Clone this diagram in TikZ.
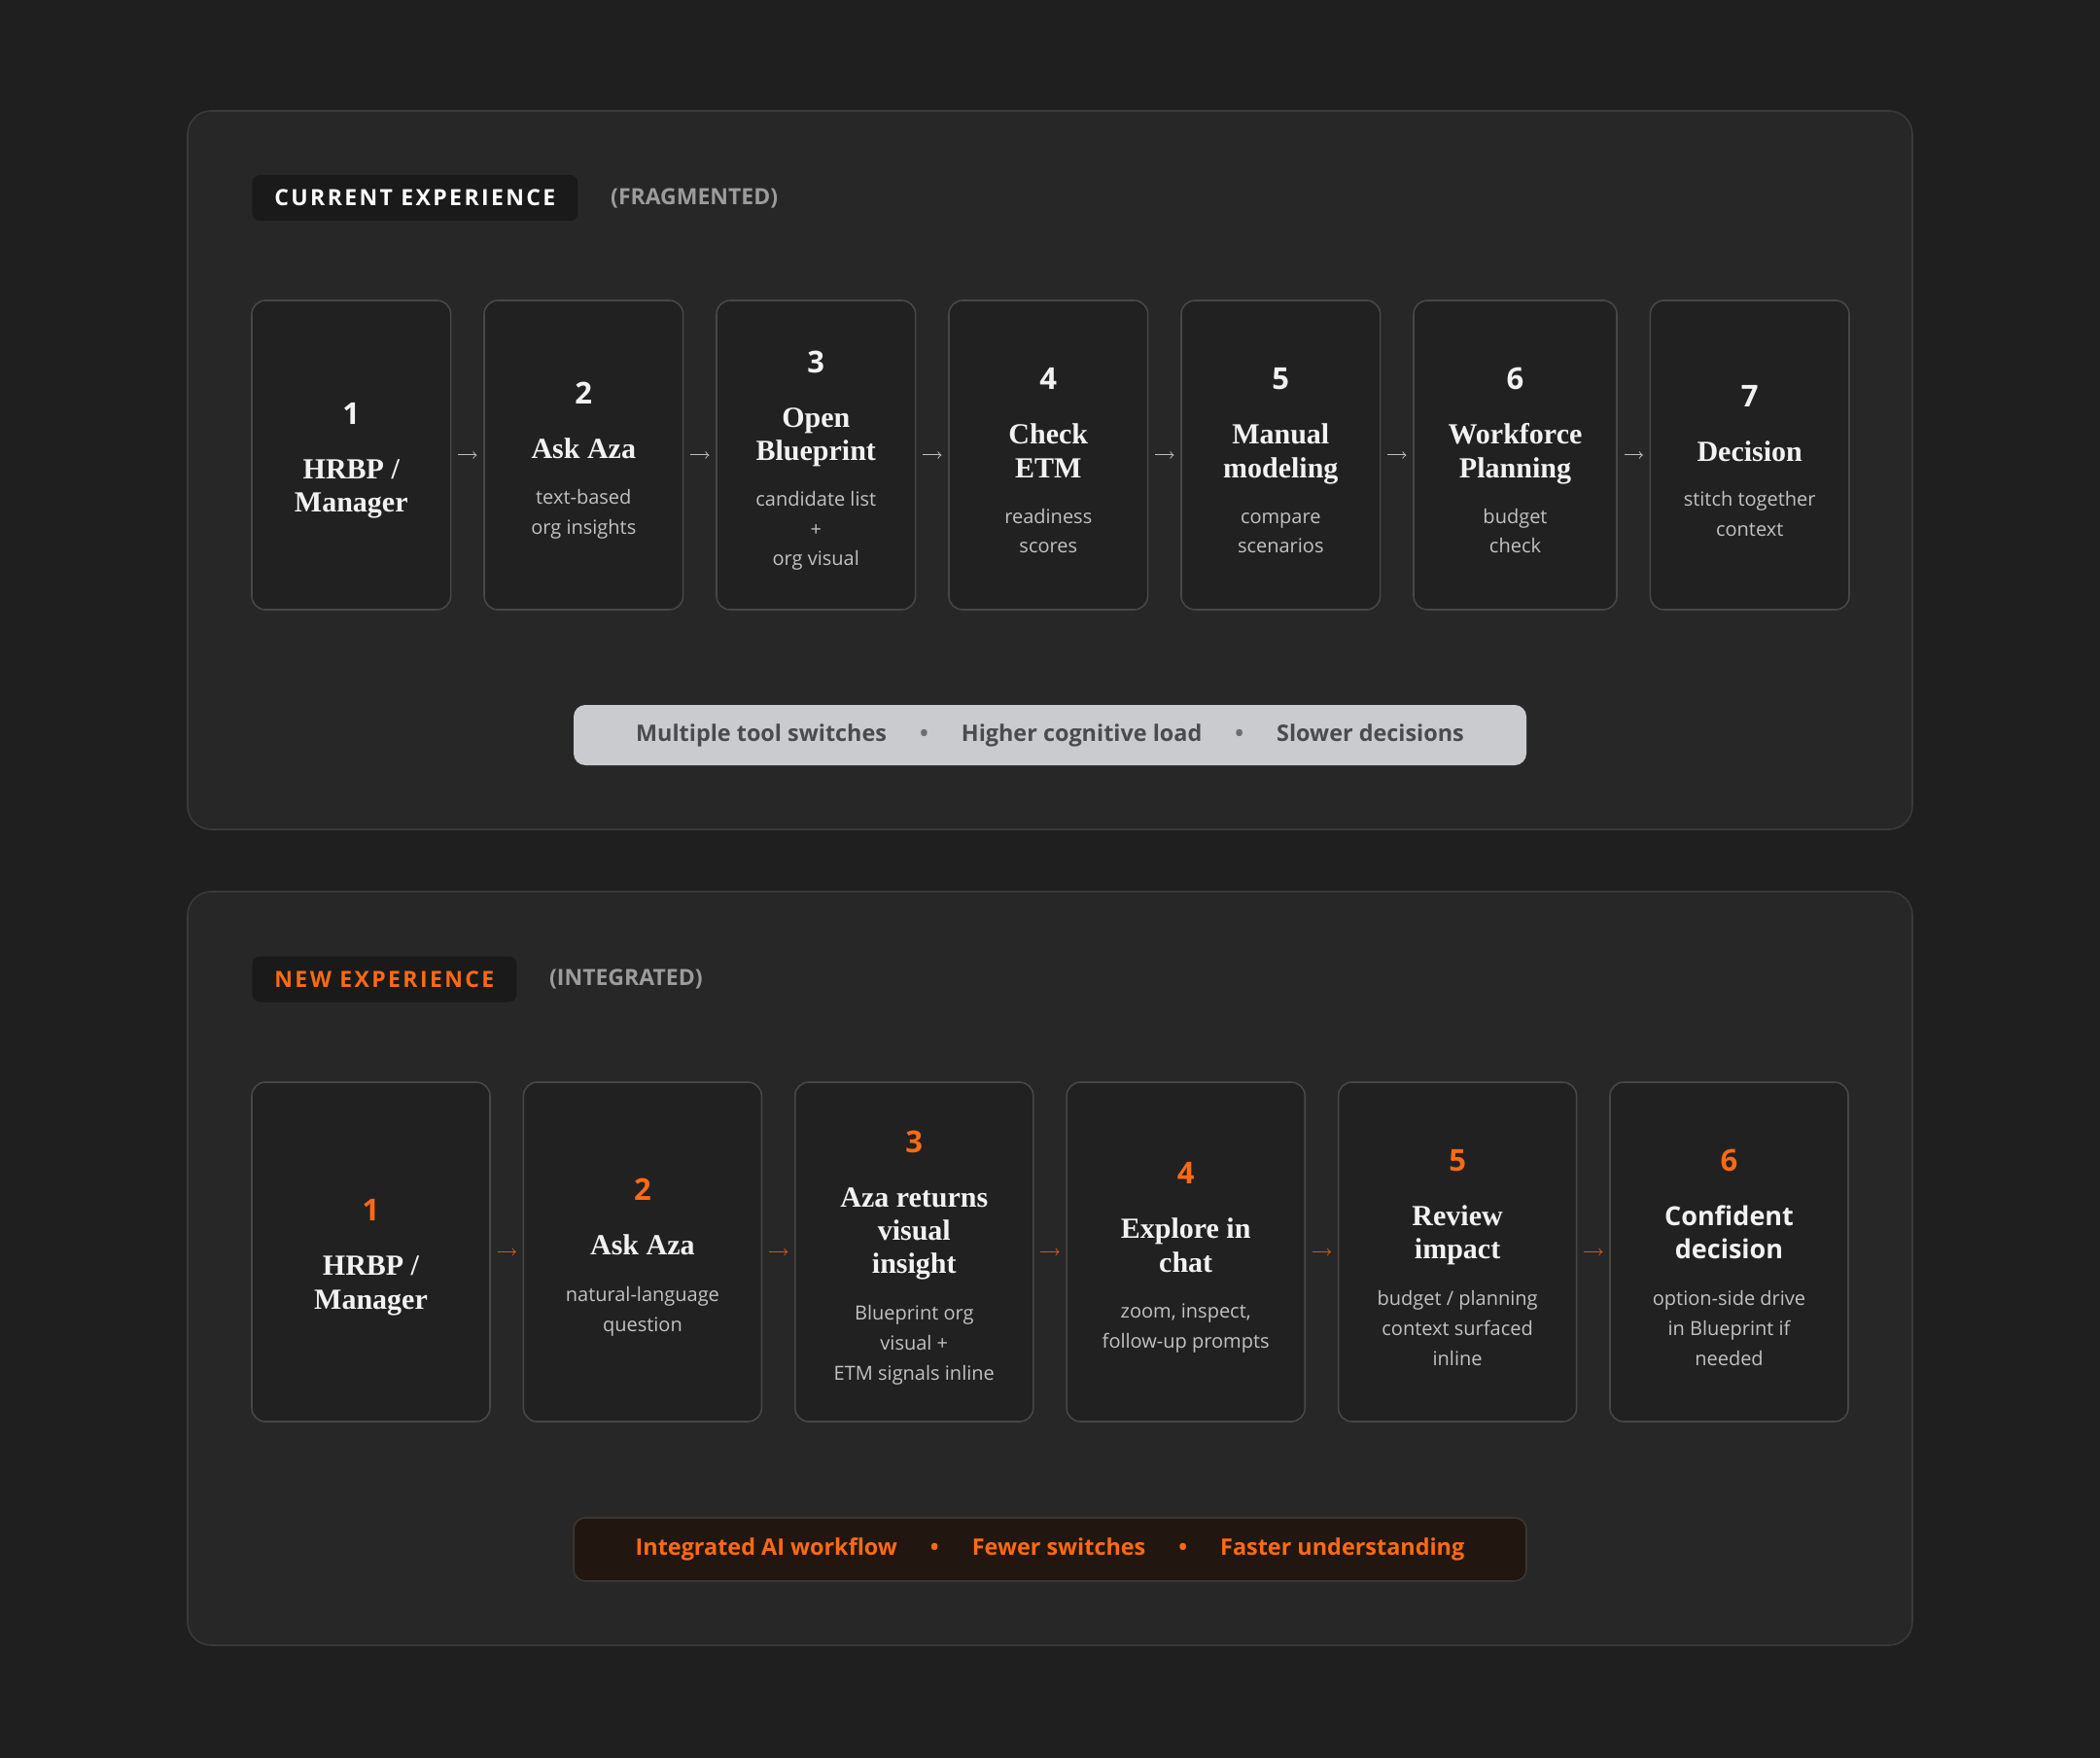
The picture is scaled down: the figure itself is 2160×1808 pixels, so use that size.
\documentclass[tikz,border=0pt]{standalone}
\usepackage{fontspec}
\setmainfont{Liberation Serif}
\newfontfamily\uisans{Open Sans}
\newfontfamily\uitrack[LetterSpace=10.4]{Open Sans}
\usepackage{tikz}
\usetikzlibrary{positioning}

\definecolor{pagebg}{HTML}{1F1F1F}
\definecolor{panelbg}{HTML}{272727}
\definecolor{panelline}{HTML}{3A3A3A}
\definecolor{cardbg}{HTML}{212121}
\definecolor{cardline}{HTML}{474747}
\definecolor{tagbg}{HTML}{1A1A1A}
\definecolor{titlewhite}{HTML}{F2F2F2}
\definecolor{softgray}{HTML}{C2C2C2}
\definecolor{headgray}{HTML}{9C9C9C}
\definecolor{arrowgray}{HTML}{BDBDBD}
\definecolor{brandorange}{HTML}{FF6A14}
\definecolor{dimorange}{HTML}{C9571B}
\definecolor{barlight}{HTML}{C9CBCF}
\definecolor{bartext}{HTML}{4A4B4F}
\definecolor{dotgray}{HTML}{6E6F72}
\definecolor{bardark}{HTML}{221710}
\definecolor{barline}{HTML}{3B3633}

\newcommand\cardfont{\uisans\fontsize{10}{15.4}\selectfont}
\newcommand\stepnum{\uisans\bfseries\fontsize{15.5}{18}\selectfont\rule{0pt}{17pt}}
\newcommand\steptitle{\rmfamily\bfseries\fontsize{15}{18}\selectfont}
\newcommand\stepsanstitle{\uisans\bfseries\fontsize{13.5}{17}\selectfont}
\newcommand\stepdesc{\uisans\fontsize{10}{15.4}\selectfont\color{softgray}}
\newcommand\graydot{\hspace{17pt}{\color{dotgray}\textbullet}\hspace{17pt}}
\newcommand\orangedot{\hspace{17pt}\textbullet\hspace{17pt}}

\begin{document}
\begin{tikzpicture}[x=0.5pt, y=-0.5pt, node distance=17.2pt,
    panel/.style={fill=panelbg, draw=panelline, line width=0.8pt, rounded corners=12pt},
    card/.style={rectangle, fill=cardbg, draw=cardline, line width=0.8pt, outer sep=0pt, rounded corners=7pt, align=center, text=titlewhite, font=\cardfont},
    topcard/.style={card, minimum width=102.3pt, minimum height=159pt},
    newcard/.style={card, minimum width=122.5pt, minimum height=174.5pt},
    tagbox/.style={fill=tagbg, rounded corners=4pt, inner xsep=11.5pt, minimum height=23.5pt, font=\uitrack\bfseries\fontsize{11.5}{14}\selectfont},
    taghint/.style={inner sep=0pt, text=headgray, font=\uisans\bfseries\fontsize{11.5}{14}\selectfont},
    barbox/.style={rounded corners=6pt, minimum width=490pt, minimum height=31pt, font=\uisans\bfseries\fontsize{11.7}{14}\selectfont},
    topflow/.style={->, draw=arrowgray, line width=0.5pt, shorten <=3.8pt, shorten >=3.8pt},
    newflow/.style={topflow, draw=dimorange}
]
\fill[pagebg] (0,0) rectangle (2160,1808);

% current experience
\draw[panel] (193,114) rectangle (1967,853);
\node[tagbox, text=white, anchor=west](curtag) at (259,203.5) {CURRENT EXPERIENCE};
\node[taghint](curhint)[right=16.5pt of curtag]{(FRAGMENTED)};

\node[topcard, anchor=north west](t1) at (259,309) {\stepnum 1\\[12.6pt]\steptitle HRBP /\\[1.8pt]\steptitle Manager};
\node[topcard](t2)[right=of t1]{\stepnum 2\\[12.6pt]\steptitle Ask Aza\\[8pt]\stepdesc text-based\\\stepdesc org insights};
\node[topcard](t3)[right=of t2]{\stepnum 3\\[12.6pt]\steptitle Open\\[1.8pt]\steptitle Blueprint\\[8pt]\stepdesc candidate list\\\stepdesc +\\\stepdesc org visual};
\node[topcard](t4)[right=of t3]{\stepnum 4\\[12.6pt]\steptitle Check\\[1.8pt]\steptitle ETM\\[8pt]\stepdesc readiness\\\stepdesc scores};
\node[topcard](t5)[right=of t4]{\stepnum 5\\[12.6pt]\steptitle Manual\\[1.8pt]\steptitle modeling\\[8pt]\stepdesc compare\\\stepdesc scenarios};
\node[topcard, minimum width=104.5pt](t6)[right=of t5]{\stepnum 6\\[12.6pt]\steptitle Workforce\\[1.8pt]\steptitle Planning\\[8pt]\stepdesc budget\\\stepdesc check};
\node[topcard](t7)[right=of t6]{\stepnum 7\\[12.6pt]\steptitle Decision\\[8pt]\stepdesc stitch together\\\stepdesc context};
\draw[topflow] (t1) -- (t2);
\draw[topflow] (t2) -- (t3);
\draw[topflow] (t3) -- (t4);
\draw[topflow] (t4) -- (t5);
\draw[topflow] (t5) -- (t6);
\draw[topflow] (t6) -- (t7);

\node[barbox, fill=barlight, text=bartext](curbar) at (1080,756) {Multiple tool switches\graydot Higher cognitive load\graydot Slower decisions};

% new experience
\draw[panel] (193,917) rectangle (1967,1692);
\node[tagbox, text=brandorange, anchor=west](newtag) at (259,1007) {NEW EXPERIENCE};
\node[taghint](newhint)[right=16.5pt of newtag]{(INTEGRATED)};

\node[newcard, anchor=north west](b1) at (259,1113) {\stepnum\color{brandorange}1\\[12.6pt]\steptitle HRBP /\\[1.8pt]\steptitle Manager};
\node[newcard](b2)[right=of b1]{\stepnum\color{brandorange}2\\[12.6pt]\steptitle Ask Aza\\[8.5pt]\stepdesc natural-language\\\stepdesc question};
\node[newcard](b3)[right=of b2]{\stepnum\color{brandorange}3\\[12.6pt]\steptitle Aza returns\\[1.8pt]\steptitle visual\\[1.8pt]\steptitle insight\\[8.5pt]\stepdesc Blueprint org\\\stepdesc visual +\\\stepdesc ETM signals inline};
\node[newcard](b4)[right=of b3]{\stepnum\color{brandorange}4\\[12.6pt]\steptitle Explore in\\[1.8pt]\steptitle chat\\[8.5pt]\stepdesc zoom, inspect,\\\stepdesc follow-up prompts};
\node[newcard](b5)[right=of b4]{\stepnum\color{brandorange}5\\[12.6pt]\steptitle Review\\[1.8pt]\steptitle impact\\[8.5pt]\stepdesc budget / planning\\\stepdesc context surfaced\\\stepdesc inline};
\node[newcard](b6)[right=of b5]{\stepnum\color{brandorange}6\\[12.6pt]\stepsanstitle Confident\\[1.8pt]\stepsanstitle decision\\[8.5pt]\stepdesc option-side drive\\\stepdesc in Blueprint if\\\stepdesc needed};
\draw[newflow] (b1) -- (b2);
\draw[newflow] (b2) -- (b3);
\draw[newflow] (b3) -- (b4);
\draw[newflow] (b4) -- (b5);
\draw[newflow] (b5) -- (b6);

\node[barbox, fill=bardark, draw=barline, line width=0.8pt, minimum height=32.5pt, text=brandorange](newbar) at (1080,1593.5) {Integrated AI workflow\orangedot Fewer switches\orangedot Faster understanding};
\end{tikzpicture}
\end{document}
